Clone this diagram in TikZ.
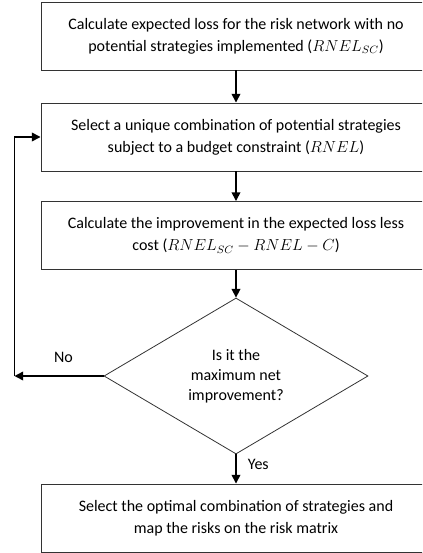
\documentclass[tikz,border=0pt]{standalone}
\usepackage{fontspec}
\setmainfont{Carlito}
\usetikzlibrary{shapes.geometric,arrows.meta}

\begin{document}
\begin{tikzpicture}[x=0.75pt, y=-0.75pt,
    stepbox/.style={rectangle, draw=black!80, line width=0.7pt, minimum width=292.5pt, minimum height=51pt, align=center, font=\fontsize{12}{16.5}\selectfont},
    decision/.style={diamond, draw=black!80, line width=0.6pt, minimum width=198pt, minimum height=117pt, aspect=1.69, align=center, inner sep=0pt, font=\fontsize{12}{15}\selectfont},
    flow/.style={-{Triangle[width=6.5pt,length=6.5pt]}, line width=1.1pt},
    lbl/.style={font=\fontsize{12}{14}\selectfont}]
    \useasboundingbox (0,0) rectangle (422,553);
    \clip (0,0) rectangle (422,553);

    \node[stepbox] (noStrat) at (236, 36) {Calculate expected loss for the risk network with no\\potential strategies implemented ($RNEL_{SC}$)};
    \node[stepbox] (select) at (236, 137) {Select a unique combination of potential strategies\\subject to a budget constraint ($RNEL$)};
    \node[stepbox] (improve) at (236, 235.5) {Calculate the improvement in the expected loss less\\cost ($RNEL_{SC}-RNEL-C$)};
    \node[decision] (isMax) at (236, 376) {Is it the\\maximum net\\improvement?};
    \node[stepbox] (optimal) at (236, 518) {Select the optimal combination of strategies and\\map the risks on the risk matrix};
    \coordinate (back) at (14.5, 376);

    % connectors
    \draw[flow] (noStrat) -- (select);
    \draw[flow] (select) -- (improve);
    \draw[flow] (improve) -- (isMax);
    \draw[flow] (isMax) -- node[lbl, right, pos=0.35, xshift=5pt] {Yes} (optimal);
    \draw[flow] (isMax.west) -- node[lbl, above=6pt, pos=0.45] {No} (back);
    \draw[flow] (back) |- (select.west);
\end{tikzpicture}
\end{document}
